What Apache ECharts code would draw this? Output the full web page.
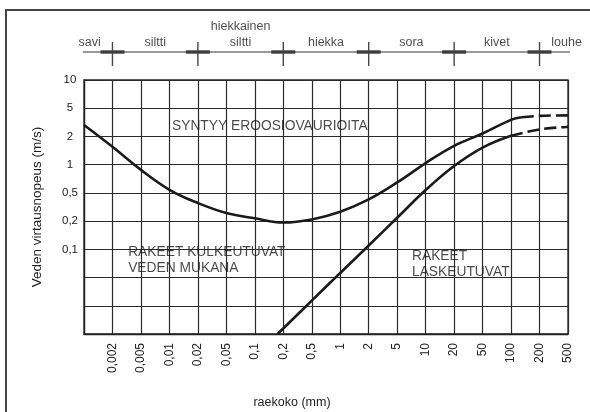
<!DOCTYPE html>
<html>
<head>
<meta charset="utf-8">
<script src="https://cdn.jsdelivr.net/npm/echarts@6/dist/echarts.min.js"></script>
<style>html,body{margin:0;padding:0;background:#fff}#c{width:590px;height:412px}</style>
</head>
<body>
<div id="c"></div>
<script>
// grain size ticks (mm), equally spaced on the axis
const sizeTicks = [0.001,0.002,0.005,0.01,0.02,0.05,0.1,0.2,0.5,1,2,5,10,20,50,100,200,500];
const sizeLabels = ['', '0,002','0,005','0,01','0,02','0,05','0,1','0,2','0,5','1','2','5','10','20','50','100','200','500'];
// velocity ticks (m/s), equally spaced on the axis
const velTicks = [0.01,0.02,0.05,0.1,0.2,0.5,1,2,5,10];
const velLabels = ['', '', '', '0,1','0,2','0,5','1','2','5','10'];

// erosion curve (mm, m/s)
const erosionSize = [0.001,0.002,0.005,0.01,0.02,0.05,0.1,0.2,0.5,1,2,5,10,20,50,100,130];
const erosionVel  = [2.9,1.55,0.88,0.54,0.36,0.26,0.219,0.193,0.211,0.271,0.405,0.646,1.04,1.59,2.2,3.43,3.72];
const erosionDashSize = [130,200,500];
const erosionDashVel  = [3.72,3.9,3.97];
// settling curve (mm, m/s)
const settleSize = [0.174,0.5,1,2,5,10,20,50,100];
const settleVel  = [0.01,0.0236,0.056,0.11,0.223,0.536,0.966,1.52,2.04];
const settleDashSize = [100,200,500];
const settleDashVel  = [2.04,2.51,2.73];

// grain classes
const classBounds = [0.002,0.02,0.2,2,20,200];
const classNames = ['savi','siltti','hiekkainen\nsiltti','hiekka','sora','kivet','louhe'];

function toIdx(v, ticks){
  for (let i=0;i<ticks.length-1;i++){
    if (v>=ticks[i] && v<=ticks[i+1]) return i + Math.log(v/ticks[i])/Math.log(ticks[i+1]/ticks[i]);
  }
  return v < ticks[0] ? 0 : ticks.length-1;
}
function pts(xs, ys){ return xs.map((x,i)=>[toIdx(x,sizeTicks), toIdx(ys[i],velTicks)]); }

const ink = '#1a1a1a';
const font = 'Liberation Sans, Arial, sans-serif';
const classPos = [0.2,2.5,5.5,8.5,11.5,14.5,16.95];

const chart = echarts.init(document.getElementById('c'), null, {renderer:'canvas'});
chart.setOption({
  backgroundColor:'#fff',
  animation:false,
  grid:[
    {left:84,right:22,top:80,bottom:78,show:true,borderColor:'#222',borderWidth:1.3,backgroundColor:'transparent',
     outerBoundsMode:'none',containLabel:false},
    {left:84,right:22,top:30,height:22,outerBoundsMode:'none',containLabel:false}
  ],
  xAxis:[
    {type:'value',gridIndex:0,min:0,max:17,interval:1,
     axisLine:{show:true,lineStyle:{color:'#222',width:1.3}},
     axisTick:{show:false},
     splitLine:{show:true,lineStyle:{color:'#2a2a2a',width:1.2}},
     axisLabel:{rotate:90,margin:9,fontSize:12,color:'#222',fontFamily:font,
       formatter:(v)=>sizeLabels[Math.round(v)]||''},
     name:'raekoko (mm)',nameLocation:'middle',nameGap:62,
     nameTextStyle:{fontSize:12.5,color:'#222',fontFamily:font,padding:[0,68,0,0]}},
    {type:'value',gridIndex:1,min:0,max:17,show:false}
  ],
  yAxis:[
    {type:'value',gridIndex:0,min:0,max:9,interval:1,
     axisLine:{show:true,lineStyle:{color:'#222',width:1.3}},
     axisTick:{show:false},
     splitLine:{show:true,lineStyle:{color:'#2a2a2a',width:1.2}},
     axisLabel:{margin:14,align:'center',fontSize:11.5,color:'#222',fontFamily:font,
       formatter:(v)=>velLabels[Math.round(v)]||''},
     name:'Veden virtausnopeus (m/s)',nameLocation:'middle',nameGap:40,
     nameTextStyle:{fontSize:13.5,color:'#222',fontFamily:font}},
    {type:'value',gridIndex:1,min:0,max:1,show:false}
  ],
  series:[
    {type:'line',xAxisIndex:0,yAxisIndex:0,data:pts(erosionSize,erosionVel),smooth:0.4,symbol:'none',
     lineStyle:{color:ink,width:2.6}},
    {type:'line',xAxisIndex:0,yAxisIndex:0,data:pts(erosionDashSize,erosionDashVel),smooth:0.4,symbol:'none',
     lineStyle:{color:ink,width:2.6,type:[12,5]}},
    {type:'line',xAxisIndex:0,yAxisIndex:0,data:pts(settleSize,settleVel),smooth:0.4,symbol:'none',
     lineStyle:{color:ink,width:2.6}},
    {type:'line',xAxisIndex:0,yAxisIndex:0,data:pts(settleDashSize,settleDashVel),smooth:0.4,symbol:'none',
     lineStyle:{color:ink,width:2.6,type:[12,5]}},
    {type:'scatter',xAxisIndex:0,yAxisIndex:0,symbolSize:0,silent:true,
     data:[
       {name:'SYNTYY EROOSIOVAURIOITA',value:[3.09,7.38]},
       {name:'RAKEET KULKEUTUVAT\nVEDEN MUKANA',value:[1.55,2.62]},
       {name:'RAKEET\nLASKEUTUVAT',value:[11.52,2.48]}
     ],
     label:{show:true,position:'right',distance:0,formatter:'{b}',fontSize:13.8,lineHeight:16,
       color:'#1a1a1a',fontFamily:font}},
    // header
    {type:'line',xAxisIndex:1,yAxisIndex:1,data:[[-0.7,0],[17.8,0]],clip:false,symbol:'none',
     lineStyle:{color:'#333',width:1.2}},
    {type:'scatter',xAxisIndex:1,yAxisIndex:1,clip:false,silent:true,
     data:classBounds.map(b=>[toIdx(b,sizeTicks),0]),
     symbol:'path://M0,8.2 L24,8.2 L24,11.8 L0,11.8 Z M11.3,0 L12.7,0 L12.7,24 L11.3,24 Z',
     symbolSize:[24,24],symbolOffset:[0,2],itemStyle:{color:ink}},
    {type:'scatter',xAxisIndex:1,yAxisIndex:1,clip:false,silent:true,symbolSize:0,
     data:classNames.map((n,i)=>({name:n,value:[classPos[i],0]})),
     label:{show:true,position:'top',distance:1,formatter:'{b}',fontSize:12.5,lineHeight:16,
       color:'#222',fontFamily:font}}
  ],
  graphic:[
    {type:'rect',shape:{x:6,y:10,width:620,height:430},
     style:{fill:'none',stroke:'#444',lineWidth:2},silent:true,z:-1}
  ]
});
</script>
</body>
</html>
